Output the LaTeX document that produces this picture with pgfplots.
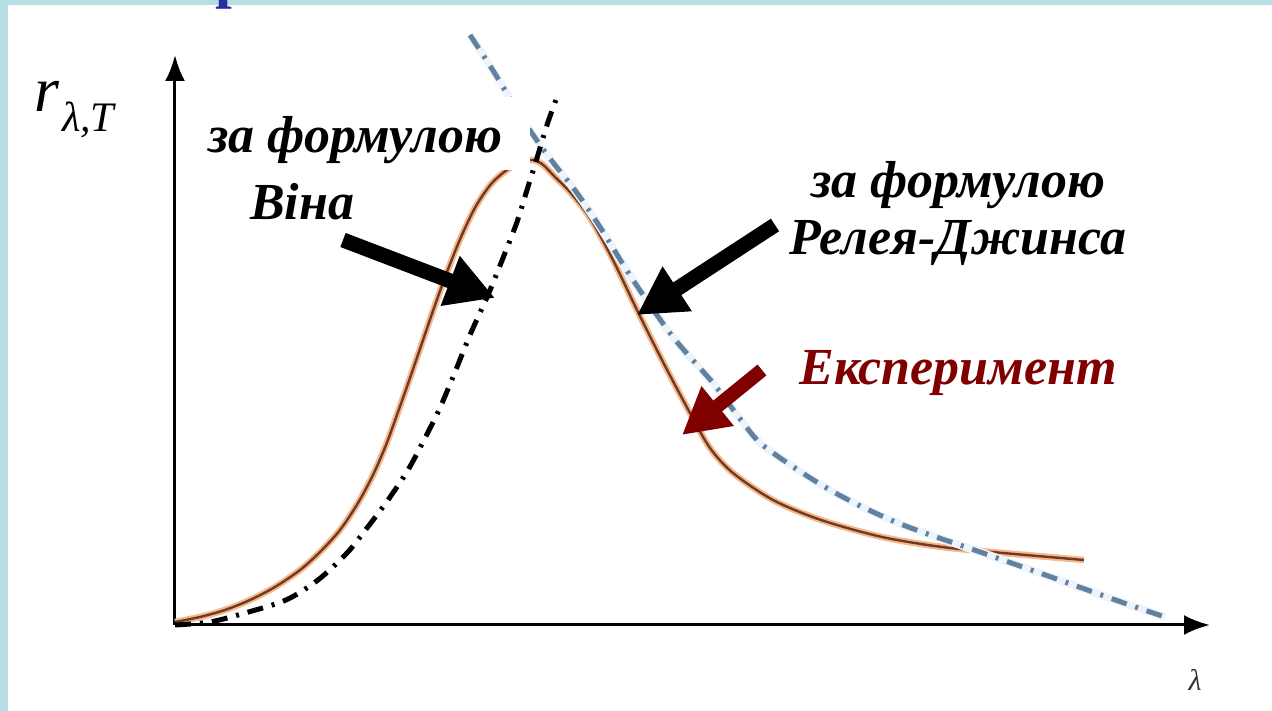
\documentclass[border=0pt]{standalone}
\usepackage{pgfplots}
\pgfplotsset{compat=1.18}
\usepackage{fontspec}
\setmainfont{Liberation Serif}
\usetikzlibrary{arrows.meta}

\definecolor{frameblue}{RGB}{182,222,227}
\definecolor{titleblue}{RGB}{40,44,160}
\definecolor{expbrown}{RGB}{112,58,34}
\definecolor{expglow}{RGB}{244,184,140}
\definecolor{rjblue}{RGB}{98,128,160}
\definecolor{rjglow}{RGB}{238,245,250}
\definecolor{darkred}{RGB}{128,0,0}

\pgfplotstableread{
x   y
0   3
25  8
50  15
75  25
100 38
125 55
145 73
165 95
183 122
198 150
211 180
223 213
235 247
247 282
259 317
272 353
286 388
301 419
317 442
335 457
355 465
367 461
380 448
395 433
415 407
438 365
462 315
488 263
515 212
535 177
558 152
598 125
646 105
707 88
767 78
828 72
909 65
}\experiment

\pgfplotstableread{
x   y
295 590
310 567
322 548
345 510
365 480
380 460
402 432
425 398
458 345
498 288
538 242
566 205
590 178
655 135
723 102
808 72
876 48
949 22
990 8
}\rayleighjeans

\pgfplotstableread{
x   y
0   0
35  3
70  12
111 25
143 45
172 72
192 97
213 125
233 155
249 185
264 215
278 248
295 290
313 330
330 372
342 403
352 435
362 467
372 500
382 528
}\wien

\begin{document}
\begin{tikzpicture}[x=1pt,y=1pt]
  % slide background with its light blue edge
  \fill[frameblue] (-175,-86) rectangle (1097,625);
  \fill[white] (-167,-86) rectangle (1097,620);
  % bottom of a letter from the slide title above
  \begin{scope}
    \clip (30,600) rectangle (90,625);
    \node[anchor=base, inner sep=0pt, text=titleblue] at (57,628)
      {\fontsize{60}{60}\selectfont\bfseries р};
  \end{scope}

  \begin{axis}[
    scale only axis,
    width=1035pt, height=570pt,
    xmin=0, xmax=1035, ymin=0, ymax=570,
    enlargelimits=false,
    axis lines=left,
    axis line style={line width=3pt, -{Latex[length=26pt,width=20pt]}},
    xtick=\empty, ytick=\empty,
    clip=false,
  ]
    % experimental spectrum
    \addplot[expglow, line width=6.5pt, smooth] table {\experiment};
    \addplot[expbrown, line width=2.4pt, smooth] table {\experiment};
    % Rayleigh-Jeans law
    \addplot[rjglow, line width=8pt, smooth] table {\rayleighjeans};
    \addplot[rjblue, line width=5pt, smooth,
      dash pattern=on 16pt off 9pt on 3pt off 9pt] table {\rayleighjeans};
    % Wien law
    \addplot[black, line width=5pt, smooth,
      dash pattern=on 16pt off 9pt on 3pt off 9pt] table {\wien};
  \end{axis}

  % labels
  \fill[white] (7,455) rectangle (355,528);
  \fill[white] (29,400) rectangle (227,455);
  \node[anchor=base, inner sep=0pt] at (180,472)
    {\fontsize{52}{52}\selectfont\bfseries\itshape за формулою};
  \node[anchor=base, inner sep=0pt] at (127,405)
    {\fontsize{52}{52}\selectfont\bfseries\itshape Віна};
  \node[anchor=base, inner sep=0pt] at (783,427)
    {\fontsize{52}{52}\selectfont\bfseries\itshape за формулою};
  \node[anchor=base, inner sep=0pt] at (783,370)
    {\fontsize{52}{52}\selectfont\bfseries\itshape Релея-Джинса};
  \node[anchor=base, inner sep=0pt, text=darkred] at (783,240)
    {\fontsize{52}{52}\selectfont\bfseries\itshape Експеримент};

  % pointers
  \draw[black, line width=15pt, -{Triangle[length=48pt,width=50pt]}]
    (168,385) -- (320,327);
  \draw[black, line width=15pt, -{Triangle[length=48pt,width=50pt]}]
    (600,400) -- (462,310);
  \draw[darkred, line width=14pt, -{Triangle[length=46pt,width=48pt]}]
    (587,255) -- (507,190);

  % axis names
  \node[anchor=base west, inner sep=0pt] at (-141,513)
    {\fontsize{64}{64}\selectfont\itshape r};
  \node[anchor=base west, inner sep=0pt] at (-113,493)
    {\fontsize{42}{42}\selectfont\itshape λ,T};
  \node[inner sep=0pt, text=black!80] at (1020,-55)
    {\fontsize{30}{30}\selectfont\itshape λ};
\end{tikzpicture}
\end{document}
